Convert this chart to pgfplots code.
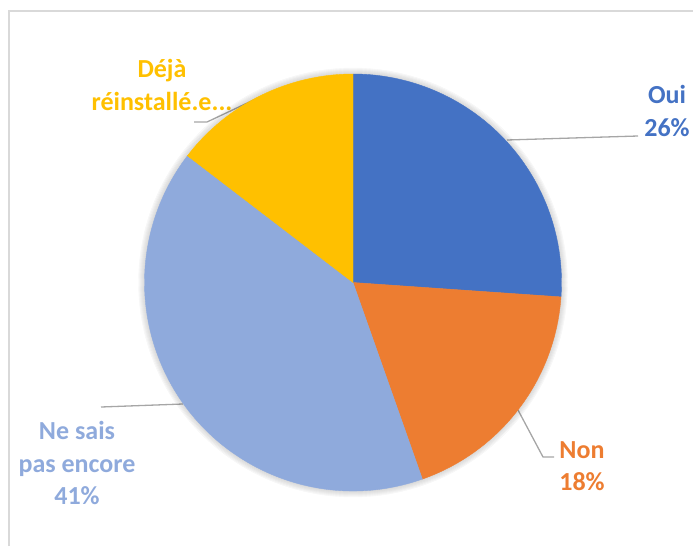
\documentclass[border=0pt]{standalone}
\usepackage{pgfplots}
\usepackage{pgfplotstable}
\pgfplotsset{compat=1.18}
\usepackage{fontspec}
\setmainfont{Carlito}
\definecolor{cOui}{HTML}{4472C4}
\definecolor{cNon}{HTML}{ED7D31}
\definecolor{cNe}{HTML}{8FAADC}
\definecolor{cDeja}{HTML}{FFC000}
\definecolor{cLead}{HTML}{A6A6A6}
\definecolor{cFrame}{HTML}{D9D9D9}
% slices: share of the circle (percent), cumulative start (percent), colour index
\pgfplotstableread{
cx cy pct cum col
353 282.5 26.1 0 1
353 282.5 18.5 26.1 2
353 282.5 40.8 44.6 3
353 282.5 14.6 85.4 4
}\piedata
\begin{document}
\begin{tikzpicture}
\begin{axis}[
  scale only axis, width=693pt, height=546pt,
  xmin=0, xmax=693, ymin=0, ymax=546, y dir=reverse,
  hide axis, clip=false,
]
% chart frame
\addplot[cFrame, line width=1.2pt, mark=none] coordinates {(9,546) (9,11) (693,11)};
% pie slices
\addplot[scatter, only marks, mark=*, mark size=0pt,
  mark options={draw=none, fill=none},
  point meta=explicit,
  visualization depends on={\thisrow{pct} \as \pct},
  visualization depends on={\thisrow{cum} \as \cum},
  visualization depends on={\thisrow{col} \as \col},
  scatter/@pre marker code/.code={%
    \pgfmathsetmacro\sa{90-3.6*\cum}%
    \pgfmathsetmacro\ea{90-3.6*(\cum+\pct)}%
    \pgfmathtruncatemacro\ci{\col}%
    \ifnum\ci=1
      \foreach \k in {1,...,6}{\fill[black, opacity=0.025] (0pt,0pt) circle[radius=208.5pt+\k pt];}%
    \fi
    \ifcase\ci\or\def\fc{cOui}\or\def\fc{cNon}\or\def\fc{cNe}\or\def\fc{cDeja}\fi
    \fill[\fc] (0pt,0pt) -- (\sa:208.5pt) arc[start angle=\sa, end angle=\ea, radius=208.5pt] -- cycle;
  },
  scatter/@post marker code/.code={},
] table[x=cx, y=cy, meta=pct] {\piedata};
% leader lines
\addplot[cLead, line width=1.3pt, mark=none] coordinates {(507,140) (638,136)};
\addplot[cLead, line width=1.3pt, mark=none] coordinates {(518,410) (543,457) (554,457)};
\addplot[cLead, line width=1.3pt, mark=none] coordinates {(101,407) (183,404)};
\addplot[cLead, line width=1.3pt, mark=none] coordinates {(194,122) (207,122) (260,97)};
% labels
\begin{scope}[every node/.style={anchor=base, inner sep=0pt, font=\fontsize{26}{32}\selectfont\bfseries}]
\node[text=cOui] at (axis cs:667,103) {Oui};
\node[text=cOui] at (axis cs:667,136) {26\%};
\node[text=cNon] at (axis cs:582,458) {Non};
\node[text=cNon] at (axis cs:582,490) {18\%};
\node[text=cNe] at (axis cs:77,439) {Ne sais};
\node[text=cNe] at (axis cs:77,472) {pas encore};
\node[text=cNe] at (axis cs:77,504) {41\%};
\node[text=cDeja] at (axis cs:162,77) {Déjà};
\node[text=cDeja] at (axis cs:162,110) {réinstallé.e...};
\end{scope}
\end{axis}
\pgfresetboundingbox
\path[use as bounding box] (current axis.south west) rectangle (current axis.north east);
\end{tikzpicture}
\end{document}
